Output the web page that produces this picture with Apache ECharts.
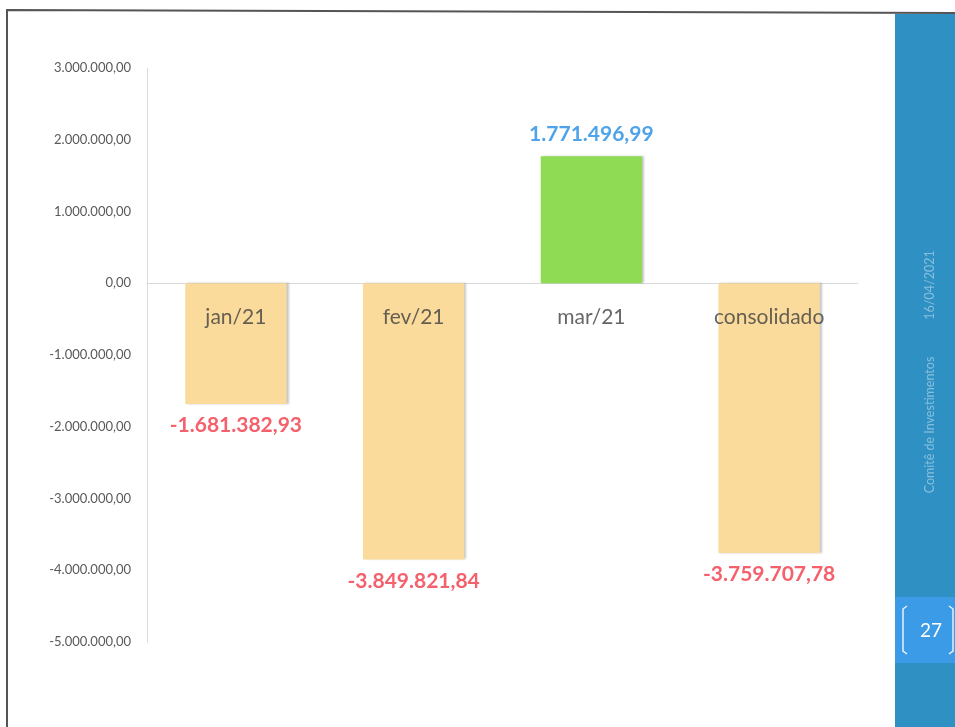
<!DOCTYPE html>
<html>
<head>
<meta charset="utf-8">
<script src="https://cdn.jsdelivr.net/npm/echarts@6/dist/echarts.min.js"></script>
<style>
html,body{margin:0;padding:0;background:#fff;}
#c{width:955px;height:727px;}
</style>
</head>
<body>
<div id="c"></div>
<script>
const categories = ['jan/21', 'fev/21', 'mar/21', 'consolidado'];
const values = [-1681382.93, -3849821.84, 1771496.99, -3759707.78];
const yTicks = [-5000000, -4000000, -3000000, -2000000, -1000000, 0, 1000000, 2000000, 3000000];
const sideDate = '16/04/2021';
const sideTitle = 'Comitê de Investimentos';
const pageNumber = '27';

function fmtBR(v, dec) {
  const neg = v < 0;
  const a = Math.abs(v).toFixed(dec);
  const parts = a.split('.');
  const int = parts[0].replace(/\B(?=(\d{3})+(?!\d))/g, '.');
  return (neg ? '-' : '') + int + (dec ? ',' + parts[1] : '');
}

const FONT = 'Lato, "Open Sans", sans-serif';
const chart = echarts.init(document.getElementById('c'));
chart.setOption({
  backgroundColor: '#ffffff',
  animation: false,
  grid: { left: 147, right: 97, top: 68, bottom: 85 },
  xAxis: {
    type: 'category',
    data: categories,
    axisLine: { onZero: true, lineStyle: { color: '#d9d9d9', width: 1 } },
    axisTick: { show: false },
    axisLabel: { show: false }
  },
  yAxis: {
    type: 'value',
    min: yTicks[0],
    max: yTicks[yTicks.length - 1],
    interval: 1000000,
    axisLine: { show: true, lineStyle: { color: '#d9d9d9' } },
    axisTick: { show: false },
    splitLine: { show: false },
    axisLabel: {
      margin: 16, fontSize: 13, color: '#595959', fontFamily: FONT,
      formatter: v => fmtBR(v, 2)
    }
  },
  series: [{
    type: 'bar',
    data: values.map(v => ({
      value: v,
      itemStyle: { color: v >= 0 ? '#8fdc54' : '#fadb9c' },
      label: {
        position: v >= 0 ? 'top' : 'bottom',
        color: v >= 0 ? '#4ea3ea' : '#f4606c'
      }
    })),
    barWidth: '57%',
    itemStyle: { shadowColor: 'rgba(0,0,0,0.22)', shadowOffsetX: 2, shadowBlur: 2 },
    label: {
      show: true, distance: 11, fontSize: 21, fontWeight: 'bold', fontFamily: FONT,
      formatter: p => fmtBR(p.value, 2)
    },
    z: 2
  }, {
    type: 'scatter',
    data: categories.map(c => [c, 0]),
    symbolSize: 0,
    silent: true,
    z: 5,
    label: {
      show: true, position: 'bottom', distance: 23,
      fontSize: 21, color: '#404040', fontFamily: FONT,
      formatter: p => p.value[0]
    }
  }],
  graphic: [
    { type: 'polyline', shape: { points: [[7, 727], [7, 10], [955, 13]] },
      style: { stroke: '#555', lineWidth: 2, fill: null }, z: 10 },
    { type: 'rect', shape: { x: 895, y: 14, width: 60, height: 713 },
      style: { fill: '#2f90c3' }, z: 11 },
    { type: 'rect', shape: { x: 895, y: 597, width: 60, height: 66 },
      style: { fill: '#3b9be6' }, z: 12 },
    { type: 'polyline', shape: { points: [[907, 606], [903, 609], [903, 651], [907, 654]] },
      style: { stroke: '#e8f2fb', lineWidth: 1.5, fill: null }, z: 13 },
    { type: 'polyline', shape: { points: [[949, 606], [953, 609], [953, 651], [949, 654]] },
      style: { stroke: '#e8f2fb', lineWidth: 1.5, fill: null }, z: 13 },
    { type: 'text', x: 931, y: 631, z: 13,
      style: { text: pageNumber, fill: '#ffffff', fontSize: 19, fontFamily: FONT, align: 'center', verticalAlign: 'middle' } },
    { type: 'text', x: 930, y: 285, rotation: Math.PI / 2, z: 13,
      style: { text: sideDate, fill: 'rgba(255,255,255,0.42)', fontSize: 12.5, fontFamily: FONT, align: 'center', verticalAlign: 'middle' } },
    { type: 'text', x: 930, y: 425, rotation: Math.PI / 2, z: 13,
      style: { text: sideTitle, fill: 'rgba(255,255,255,0.42)', fontSize: 12.5, fontFamily: FONT, align: 'center', verticalAlign: 'middle' } }
  ]
});
</script>
</body>
</html>
